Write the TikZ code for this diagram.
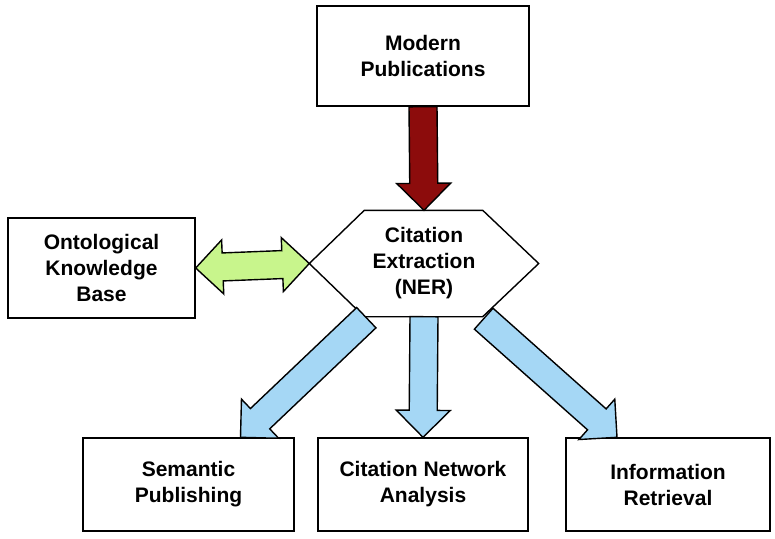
\documentclass[tikz,border=0pt]{standalone}
\usepackage{fontspec}
\setmainfont{Liberation Sans}
\usetikzlibrary{calc}
\definecolor{arrowred}{RGB}{140,12,12}
\definecolor{arrowgreen}{RGB}{200,245,140}
\definecolor{arrowblue}{RGB}{165,215,245}

% block arrow from #1 to #2, filled with #3
\newcommand{\blockarrow}[3]{%
  \path ($(#2)!27pt!(#1)$) coordinate (hb);
  \filldraw[fill=#3, draw=black, line width=1.4pt]
    ($(#1)!14pt!90:(#2)$) -- ($(hb)!14pt!90:(#2)$) -- ($(hb)!27pt!90:(#2)$)
    -- (#2) -- ($(hb)!27pt!-90:(#2)$) -- ($(hb)!14pt!-90:(#2)$)
    -- ($(#1)!14pt!-90:(#2)$) -- cycle;
}
% block arrow with heads at both ends
\newcommand{\doublearrow}[3]{%
  \path ($(#2)!27pt!(#1)$) coordinate (hb) ($(#1)!27pt!(#2)$) coordinate (ha);
  \filldraw[fill=#3, draw=black, line width=1.4pt]
    (#1) -- ($(ha)!27pt!90:(#2)$) -- ($(ha)!14pt!90:(#2)$)
    -- ($(hb)!14pt!90:(#2)$) -- ($(hb)!27pt!90:(#2)$) -- (#2)
    -- ($(hb)!27pt!-90:(#2)$) -- ($(hb)!14pt!-90:(#2)$)
    -- ($(ha)!14pt!-90:(#2)$) -- ($(ha)!27pt!-90:(#2)$) -- cycle;
}

\begin{document}
\begin{tikzpicture}[x=1pt, y=-1pt,
    box/.style={draw, line width=1.4pt, align=center,
      font=\fontsize{21}{26}\selectfont\bfseries}]
  \useasboundingbox (0,0) rectangle (775,538);

  \node[box, minimum width=212, minimum height=100] (pub) at (423,56) {Modern\\Publications};
  \node[box, minimum width=187, minimum height=100] (okb) at (101.5,268) {Ontological\\Knowledge\\Base};
  \node[box, draw=none, minimum width=228, minimum height=105] (cite) at (424,263.5) {Citation\\Extraction\\(NER)};
  \draw[line width=1.4pt] (cite.west) -- ($(cite.north west)+(55,0)$)
    -- ($(cite.north east)+(-56,0)$) -- (cite.east)
    -- ($(cite.south east)+(-56,0)$) -- ($(cite.south west)+(55,0)$) -- cycle;

  \node[box, minimum width=211, minimum height=93] (sp) at (188.5,484.5) {Semantic\\Publishing};
  \node[box, minimum width=210, minimum height=93] (cna) at (423,484.5) {Citation Network\\Analysis};
  \node[box, minimum width=204, minimum height=93] (ir) at (668,484.5) {Information\\Retrieval};

  \coordinate (lt) at ($(cite.south west)+(57,1)$);
  \coordinate (ltip) at ($(sp.north)+(52,0)$);
  \coordinate (rt) at ($(cite.south east)+(-55,2)$);
  \coordinate (rtip) at ($(ir.north)+(-51,0)$);

  \blockarrow{pub.south}{cite.north}{arrowred}
  \doublearrow{okb.east}{cite.west}{arrowgreen}
  \blockarrow{cite.south}{cna.north}{arrowblue}
  \blockarrow{lt}{ltip}{arrowblue}
  \blockarrow{rt}{rtip}{arrowblue}
\end{tikzpicture}
\end{document}
